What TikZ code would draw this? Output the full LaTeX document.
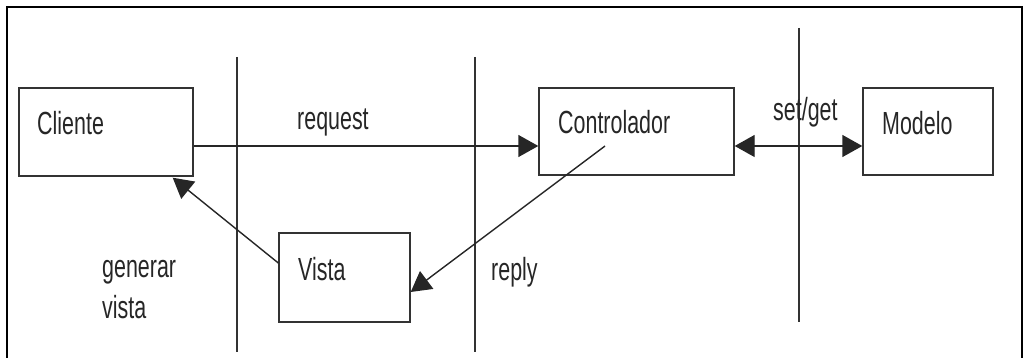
\documentclass[tikz,border=0pt]{standalone}
\usepackage{fontspec}
\setmainfont{Liberation Sans}
\newfontfamily\narrowsans[FakeStretch=0.67]{Liberation Sans}
\usetikzlibrary{arrows.meta,calc}

\tikzset{
  box/.style={draw=black!80, line width=1.4pt, rectangle, inner sep=0pt},
  lbl/.style={anchor=base west, inner sep=0pt, text=black!85,
              font=\narrowsans\fontsize{32}{41}\selectfont},
  divider/.style={draw=black!80, line width=1.3pt},
  conn/.style={draw=black!85, line width=1.4pt},
  tip/.style={-{Triangle[length=20pt,width=22pt]}},
  twotip/.style={{Triangle[length=20pt,width=22pt]}-{Triangle[length=20pt,width=22pt]}},
}

\begin{document}
\begin{tikzpicture}[x=1pt,y=-1pt]
  \useasboundingbox (0,0) rectangle (1026,358);

  % open frame (left, top, right)
  \draw[black, line width=2.2pt] (7,362) -- (7,7) -- (1022,7) -- (1022,362);

  % layer dividers
  \coordinate (d1t) at (237,57);  \coordinate (d1b) at (237,352);
  \coordinate (d2t) at (475,57);  \coordinate (d2b) at (475,352);
  \coordinate (d3t) at (799,28);  \coordinate (d3b) at (799,322);
  \draw[divider] (d1t) -- (d1b);
  \draw[divider] (d2t) -- (d2b);
  \draw[divider] (d3t) -- (d3b);

  % components
  \node[box, minimum width=174pt, minimum height=88pt] (cliente) at (106,132) {};
  \node[box, minimum width=195pt, minimum height=87pt] (ctrl)    at (636.5,131.5) {};
  \node[box, minimum width=130pt, minimum height=87pt] (modelo)  at (928,131.5) {};
  \node[box, minimum width=131pt, minimum height=89pt] (vista)   at (344.5,277.5) {};

  \node[lbl] (clienteT) at (37,135)  {Cliente};
  \node[lbl] (ctrlT)    at (558,134) {Controlador};
  \node[lbl] (modeloT)  at (882,135) {Modelo};
  \node[lbl] (vistaT)   at (298,280) {Vista};

  % messages
  \draw[conn, tip] ($(cliente.east)+(0,14)$) -- ($(ctrl.west)+(0,14.5)$);
  \draw[conn, twotip] ($(ctrl.east)+(0,14.5)$) -- ($(modelo.west)+(0,14.5)$);
  \coordinate (replyStart) at (605,146);
  \draw[conn, tip] (replyStart) -- ($(vista.east)+(0,14.5)$);
  \draw[conn, tip] ($(vista.west)+(0,-14.5)$) -- ($(cliente.south east)+(-21,1)$);

  % message labels (the two-line label is placed by its last baseline)
  \node[lbl] (requestL) at (297,130) {request};
  \node[lbl] (setgetL)  at (773,121) {set/get};
  \node[lbl] (replyL)   at (491,280) {reply};
  \node[lbl, align=left] (generarL) at (102,319) {generar\\vista};
\end{tikzpicture}
\end{document}
